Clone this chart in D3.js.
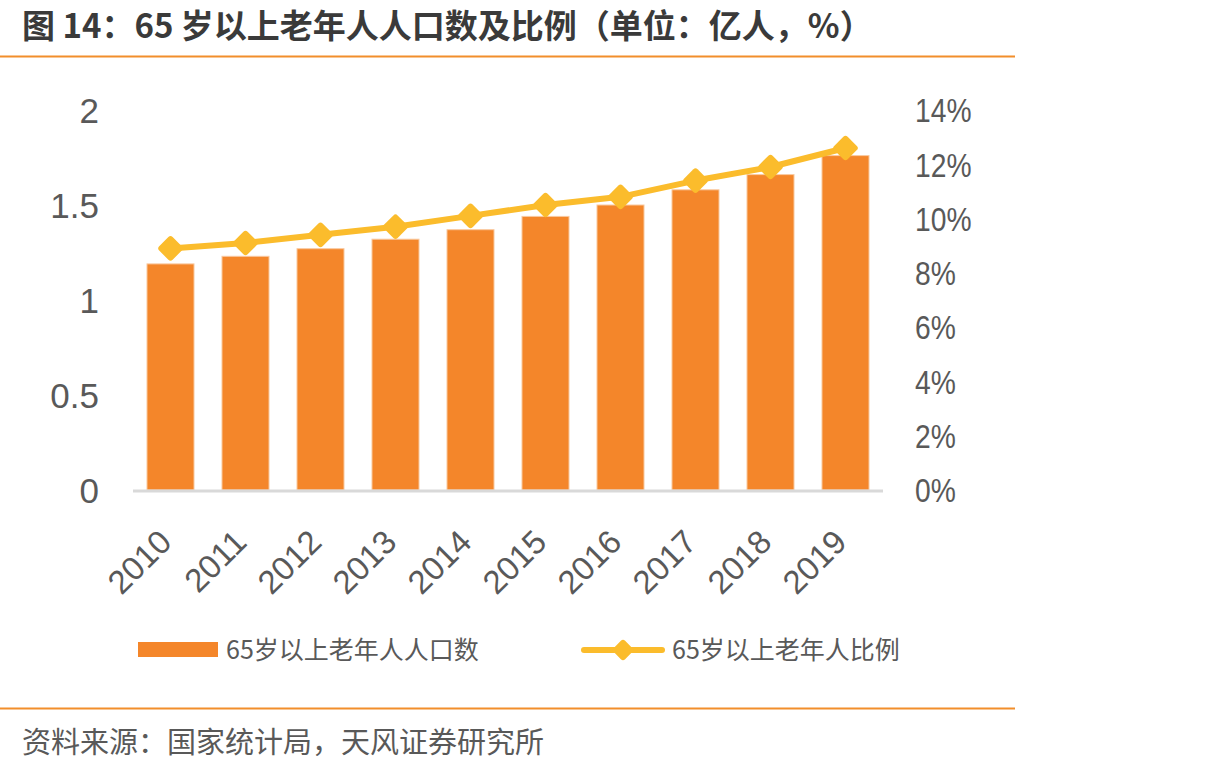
<!DOCTYPE html>
<html>
<head>
<meta charset="utf-8">
<script src="https://cdn.jsdelivr.net/npm/d3@7"></script>
<style>
    body { margin: 0; background: #fff; }
    svg { display: block; }
</style>
</head>
<body>
<svg id="chart" width="1214" height="772"></svg>
<script>
// data
const years = ["2010", "2011", "2012", "2013", "2014", "2015", "2016", "2017", "2018", "2019"];
const population = [1.19, 1.23, 1.27, 1.32, 1.37, 1.44, 1.50, 1.58, 1.66, 1.76];   // 亿人
const ratio = [8.9, 9.1, 9.4, 9.7, 10.1, 10.5, 10.8, 11.4, 11.9, 12.6];           // %
const leftTicks = [0, 0.5, 1, 1.5, 2];
const rightTicks = [0, 2, 4, 6, 8, 10, 12, 14];

const barColour = "#f4862a",
    lineColour = "#fbbc2c",
    textColour = "#595959",
    ruleColour = "#f28e2b";

const cjk = "'Noto Sans CJK SC', 'Liberation Sans', sans-serif";
const latin = "'Liberation Sans', Arial, sans-serif";

const svg = d3.select("#chart");

// title + rules
svg.append("text")
    .attr("x", 22)
    .attr("y", 38)
    .attr("font-family", cjk)
    .attr("font-weight", "bold")
    .attr("font-size", 33)
    .attr("fill", "#3a3a3a")
    .text("图 14：65 岁以上老年人人口数及比例（单位：亿人，%）");

svg.append("line")
    .attr("x1", 0).attr("x2", 1015)
    .attr("y1", 56.5).attr("y2", 56.5)
    .attr("stroke", ruleColour)
    .attr("stroke-width", 2);

svg.append("line")
    .attr("x1", 0).attr("x2", 1015)
    .attr("y1", 708.5).attr("y2", 708.5)
    .attr("stroke", ruleColour)
    .attr("stroke-width", 2);

svg.append("text")
    .attr("x", 22)
    .attr("y", 753)
    .attr("font-family", cjk)
    .attr("font-size", 29)
    .attr("fill", textColour)
    .text("资料来源：国家统计局，天风证券研究所");

// scales
const x = d3.scaleBand()
    .domain(years)
    .range([133, 883])
    .paddingInner(0.373)
    .paddingOuter(0.1865);

const yLeft = d3.scaleLinear().domain([0, 2]).range([490, 110]);
const yRight = d3.scaleLinear().domain([0, 14]).range([490, 110]);

// left axis labels
svg.append("g")
    .attr("font-family", latin)
    .attr("font-size", 35)
    .attr("fill", textColour)
    .attr("text-anchor", "end")
    .selectAll("text")
    .data(leftTicks)
    .join("text")
    .attr("x", 99)
    .attr("y", d => yLeft(d))
    .attr("dy", "0.36em")
    .text(d => d);

// right axis labels (narrow)
svg.append("g")
    .attr("font-family", latin)
    .attr("font-size", 34)
    .attr("fill", textColour)
    .selectAll("text")
    .data(rightTicks)
    .join("text")
    .attr("transform", d => `translate(915,${yRight(d)}) scale(0.83,1)`)
    .attr("dy", "0.36em")
    .text(d => d + "%");

// bars
svg.append("g")
    .selectAll("rect")
    .data(years)
    .join("rect")
    .attr("x", d => x(d))
    .attr("width", x.bandwidth())
    .attr("y", (d, i) => yLeft(population[i]))
    .attr("height", (d, i) => yLeft(0) - yLeft(population[i]))
    .attr("fill", barColour)
    .attr("stroke", "#f9c9a0")
    .attr("stroke-width", 1);

// x axis line
svg.append("line")
    .attr("x1", 133).attr("x2", 883)
    .attr("y1", 491).attr("y2", 491)
    .attr("stroke", "#d9d9d9")
    .attr("stroke-width", 3);

// x labels
svg.append("g")
    .attr("font-family", latin)
    .attr("font-size", 33)
    .attr("fill", textColour)
    .attr("text-anchor", "end")
    .selectAll("text")
    .data(years)
    .join("text")
    .attr("transform", d => `translate(${x(d) + x.bandwidth() / 2 + 3},544) rotate(-45)`)
    .text(d => d);

// ratio line
const line = d3.line()
    .x((d, i) => x(years[i]) + x.bandwidth() / 2)
    .y(d => yRight(d));

svg.append("path")
    .datum(ratio)
    .attr("fill", "none")
    .attr("stroke", lineColour)
    .attr("stroke-width", 6)
    .attr("stroke-linejoin", "round")
    .attr("d", line);

function diamond(g, cx, cy, r) {
    g.append("rect")
        .attr("x", -r).attr("y", -r)
        .attr("width", 2 * r).attr("height", 2 * r)
        .attr("rx", 3)
        .attr("transform", `translate(${cx},${cy}) rotate(45)`)
        .attr("fill", lineColour);
}

const markers = svg.append("g");
ratio.forEach((v, i) => {
    diamond(markers, x(years[i]) + x.bandwidth() / 2, yRight(v), 9.5);
});

// legend
const legend = svg.append("g")
    .attr("font-family", cjk)
    .attr("font-size", 25)
    .attr("fill", textColour);

legend.append("rect")
    .attr("x", 138).attr("y", 642)
    .attr("width", 80).attr("height", 15)
    .attr("fill", barColour);

legend.append("text")
    .attr("x", 226).attr("y", 650)
    .attr("dy", "0.36em")
    .text("65岁以上老年人人口数");

legend.append("line")
    .attr("x1", 584).attr("x2", 662)
    .attr("y1", 650).attr("y2", 650)
    .attr("stroke", lineColour)
    .attr("stroke-width", 6)
    .attr("stroke-linecap", "round");

diamond(legend, 623, 650, 8);

legend.append("text")
    .attr("x", 672).attr("y", 650)
    .attr("dy", "0.36em")
    .text("65岁以上老年人比例");
</script>
</body>
</html>
